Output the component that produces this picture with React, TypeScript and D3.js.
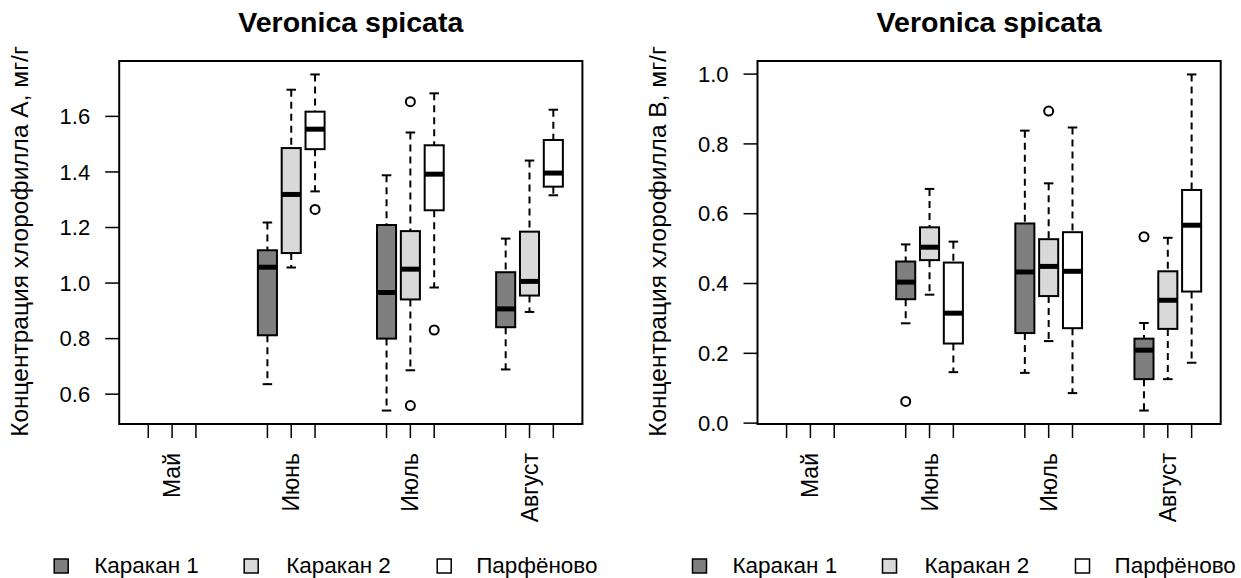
import React from "react";
import * as d3 from "d3";

// months on the x axis and sites within each month
const months = ["Май", "Июнь", "Июль", "Август"];
const sites = ["Каракан 1", "Каракан 2", "Парфёново"];
const siteFill = ["#7f7f7f", "#d9d9d9", "#ffffff"];

// box stats per month: [lower whisker, q1, median, q3, upper whisker], null = no data
const chlAKarakan1 = [null, [0.636, 0.812, 1.057, 1.118, 1.218], [0.541, 0.8, 0.966, 1.209, 1.388], [0.689, 0.841, 0.907, 1.039, 1.16]];
const chlAKarakan2 = [null, [1.056, 1.108, 1.319, 1.486, 1.696], [0.686, 0.941, 1.05, 1.187, 1.542], [0.896, 0.955, 1.006, 1.185, 1.441]];
const chlAParfenovo = [null, [1.33, 1.482, 1.554, 1.617, 1.751], [0.984, 1.262, 1.392, 1.496, 1.683], [1.316, 1.347, 1.396, 1.515, 1.624]];
const chlAOutK1 = [[], [], [], []];
const chlAOutK2 = [[], [], [1.653, 0.559], []];
const chlAOutParf = [[], [1.265], [0.831], []];

const chlBKarakan1 = [null, [0.286, 0.355, 0.404, 0.463, 0.512], [0.144, 0.258, 0.433, 0.572, 0.838], [0.036, 0.126, 0.209, 0.242, 0.287]];
const chlBKarakan2 = [null, [0.368, 0.467, 0.504, 0.561, 0.671], [0.235, 0.364, 0.449, 0.527, 0.687], [0.126, 0.27, 0.352, 0.435, 0.531]];
const chlBParfenovo = [null, [0.146, 0.228, 0.315, 0.46, 0.52], [0.086, 0.272, 0.435, 0.547, 0.847], [0.173, 0.377, 0.567, 0.668, 0.999]];
const chlBOutK1 = [[], [0.062], [], [0.534]];
const chlBOutK2 = [[], [], [0.894], []];
const chlBOutParf = [[], [], [], []];

const ticksA = [0.6, 0.8, 1.0, 1.2, 1.4, 1.6];
const ticksB = [0.0, 0.2, 0.4, 0.6, 0.8, 1.0];

const panels = [
  {
    title: "Veronica spicata",
    ylab: "Концентрация хлорофилла А, мг/г",
    stats: [chlAKarakan1, chlAKarakan2, chlAParfenovo],
    outliers: [chlAOutK1, chlAOutK2, chlAOutParf],
    ticks: ticksA,
  },
  {
    title: "Veronica spicata",
    ylab: "Концентрация хлорофилла B, мг/г",
    stats: [chlBKarakan1, chlBKarakan2, chlBParfenovo],
    outliers: [chlBOutK1, chlBOutK2, chlBOutParf],
    ticks: ticksB,
  },
];

const W = 1241;
const H = 578;
const panelOffset = [0, 638.3];
const plot = { left: 119.2, width: 463.2, top: 61, bottom: 424 };
const font = "Arial, 'Liberation Sans', sans-serif";
const boxwex = 0.8;

const Panel = ({ p, dx }) => {
  const pos = (m, s) => 1 + 5 * m + s;
  const all = [];
  p.stats.forEach(st => st.forEach(d => d && all.push(...d)));
  p.outliers.forEach(o => o.forEach(v => all.push(...v)));
  const [lo, hi] = d3.extent(all);
  const pad = (hi - lo) * 0.04;
  const y = d3.scaleLinear().domain([lo - pad, hi + pad]).range([plot.bottom, plot.top]);
  const x = d3
    .scaleLinear()
    .domain([0.5 - 18 * 0.04, 18.5 + 18 * 0.04])
    .range([plot.left, plot.left + plot.width]);
  const bw = (x(1) - x(0)) * boxwex;
  const fmt = d3.format(".1f");

  return (
    <g transform={`translate(${dx},0)`} fontFamily={font}>
      <text x={plot.left + plot.width / 2} y={31.5} textAnchor="middle" fontWeight="bold" fontSize={28.5}>
        {p.title}
      </text>
      <text
        transform={`translate(28,${(plot.top + plot.bottom) / 2 - 1}) rotate(-90)`}
        textAnchor="middle"
        fontSize={24.5}
      >
        {p.ylab}
      </text>
      {p.ticks.map(t => (
        <g key={t}>
          <line x1={plot.left - 14} x2={plot.left} y1={y(t)} y2={y(t)} stroke="#000" strokeWidth={1.5} />
          <text x={plot.left - 29} y={y(t)} dy="0.35em" textAnchor="end" fontSize={22}>
            {fmt(t)}
          </text>
        </g>
      ))}
      {months.map((m, mi) => (
        <g key={m}>
          {sites.map((s, si) => (
            <line key={s} x1={x(pos(mi, si))} x2={x(pos(mi, si))} y1={plot.bottom} y2={plot.bottom + 14} stroke="#000" strokeWidth={1.5} />
          ))}
          <text
            transform={`translate(${x(pos(mi, 1))},${plot.bottom + 29}) rotate(-90)`}
            textAnchor="end"
            dy="0.35em"
            fontSize={23}
          >
            {m}
          </text>
        </g>
      ))}
      {p.stats.map((st, si) =>
        st.map((d, mi) => {
          if (!d) return null;
          const cx = x(pos(mi, si));
          const [wl, q1, med, q3, wh] = d;
          return (
            <g key={`${si}-${mi}`} stroke="#000">
              <line x1={cx} x2={cx} y1={y(wh)} y2={y(q3)} strokeWidth={2} strokeDasharray="7,5" />
              <line x1={cx} x2={cx} y1={y(q1)} y2={y(wl)} strokeWidth={2} strokeDasharray="7,5" />
              <line x1={cx - bw / 4} x2={cx + bw / 4} y1={y(wh)} y2={y(wh)} strokeWidth={2} />
              <line x1={cx - bw / 4} x2={cx + bw / 4} y1={y(wl)} y2={y(wl)} strokeWidth={2} />
              <rect x={cx - bw / 2} y={y(q3)} width={bw} height={y(q1) - y(q3)} fill={siteFill[si]} strokeWidth={2} />
              <line x1={cx - bw / 2} x2={cx + bw / 2} y1={y(med)} y2={y(med)} strokeWidth={5} />
              {p.outliers[si][mi].map((v, k) => (
                <circle key={k} cx={cx} cy={y(v)} r={4.5} fill="none" strokeWidth={2} />
              ))}
            </g>
          );
        })
      )}
      <rect x={plot.left} y={plot.top} width={plot.width} height={plot.bottom - plot.top} fill="none" stroke="#000" strokeWidth={2} />
      {sites.map((s, si) => {
        const sx = [-65, 125, 318][si];
        const tx = [-25, 167, 357][si];
        return (
          <g key={s}>
            <rect x={plot.left + sx} y={559} width={14} height={14} fill={siteFill[si]} stroke="#000" strokeWidth={1.5} />
            <text x={plot.left + tx} y={572.5} fontSize={22.5}>
              {s}
            </text>
          </g>
        );
      })}
    </g>
  );
};

export default function App() {
  return (
    <svg width={W} height={H} style={{ position: "absolute", left: 0, top: 0, background: "#fff" }}>
      {panels.map((p, i) => (
        <Panel key={i} p={p} dx={panelOffset[i]} />
      ))}
    </svg>
  );
}
